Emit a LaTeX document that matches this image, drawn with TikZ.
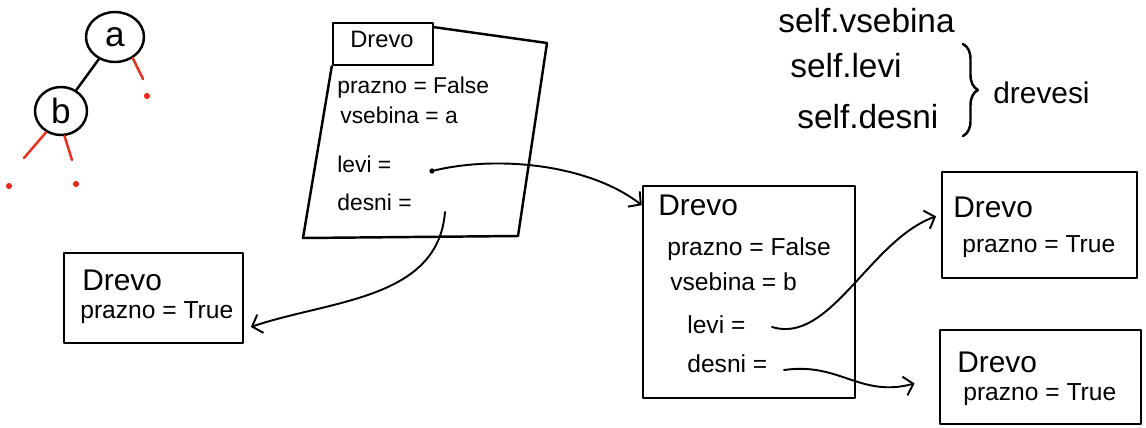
\documentclass[tikz,border=0pt]{standalone}
\usepackage{fontspec}
\setmainfont{Liberation Sans}
\usetikzlibrary{arrows.meta,shapes.geometric,decorations.pathreplacing}
\definecolor{inkred}{RGB}{232,46,30}
\begin{document}
\begin{tikzpicture}[x=0.02cm,y=-0.02cm,
  ink/.style={line width=1.4pt,line cap=round,line join=round},
  frame/.style={draw,ink,rectangle,inner sep=0pt},
  txt/.style={anchor=base west,inner sep=0pt,font=\fontsize{14}{16}\selectfont},
  txtsmall/.style={anchor=base west,inner sep=0pt,font=\fontsize{13}{15}\selectfont},
  head/.style={anchor=base west,inner sep=0pt,font=\fontsize{17}{20}\selectfont},
  big/.style={anchor=base west,inner sep=0pt,font=\fontsize{19}{22}\selectfont},
  link/.style={ink,line width=1.1pt,-{Straight Barb[length=5pt,width=11pt]}},
  knot/.style={draw,ink,ellipse,inner sep=0pt,font=\fontsize{20}{24}\selectfont},
  stub/.style={draw=inkred,line width=1.4pt,line cap=round},
  reddot/.style={circle,fill=inkred,inner sep=0pt,minimum size=3.5pt},
  startdot/.style={circle,fill,inner sep=0pt,minimum size=3pt}]
\useasboundingbox (0,0) rectangle (1146,427);

% ---- small binary tree a -> b, empty subtrees in red
\node[knot,minimum width=1.16cm,minimum height=1cm] (a) at (115,37) {a};
\node[knot,minimum width=1.04cm,minimum height=0.96cm] (b) at (61,111) {b};
\draw[ink] (a) -- (b);
\node[reddot] (ar) at (147,96) {};
\node[reddot] (bl) at (9,186) {};
\node[reddot] (brr) at (76,184) {};
\coordinate (arEnd) at (143,79);
\coordinate (blEnd) at (24,158);
\coordinate (brEnd) at (72,160);
\draw[stub] (a.-50) -- (arEnd);
\draw[stub] (b.-125) -- (blEnd);
\draw[stub] (b.-82) -- (brEnd);

% ---- root object
\node[frame,minimum width=2cm,minimum height=0.84cm] (tab1) at (383,44) {};
\node[anchor=base west,inner sep=0pt,font=\fontsize{13.5}{16}\selectfont] (t1name) at (350,47) {Drevo};
\coordinate (o1) at (433,27);
\coordinate (o2) at (547,43);
\coordinate (o3) at (518,236);
\coordinate (o4) at (303,238);
\draw[ink] (o1) -- (o2) -- (o3) -- (o4) -- (tab1.south west);
\node[txtsmall] (r1) at (337,93) {prazno = False};
\node[txtsmall] (r2) at (340,123) {vsebina = a};
\node[txtsmall] (r3) at (337,172) {levi =};
\node[txtsmall] (r4) at (337,210) {desni =};
\node[startdot] (s1) at (432,171) {};
\coordinate (s2) at (445,212);

% ---- empty tree on the left
\node[frame,minimum width=3.58cm,minimum height=1.8cm] (bL) at (153.5,298) {};
\node[head] (bLname) at (82,290) {Drevo};
\node[txt] (bLval) at (80,318) {prazno = True};

% ---- object b
\node[frame,minimum width=4.24cm,minimum height=4.24cm] (b2) at (749,292) {};
\node[head] (b2name) at (658,215) {Drevo};
\node[txt] (q1) at (667,255) {prazno = False};
\node[txt] (q2) at (670,290) {vsebina = b};
\node[txt] (q3) at (687,333) {levi =};
\node[txt] (q4) at (687,372) {desni =};
\coordinate (u1) at (772,327);
\coordinate (u2) at (784,370);

% ---- empty trees on the right
\node[frame,minimum width=3.9cm,minimum height=2.12cm] (bTR) at (1039.5,225) {};
\node[head] (bTRname) at (953,217) {Drevo};
\node[txt] (bTRval) at (962,252) {prazno = True};
\node[frame,minimum width=4.02cm,minimum height=1.88cm] (bBR) at (1040.5,377) {};
\node[head] (bBRname) at (957,372) {Drevo};
\node[txt] (bBRval) at (963,400) {prazno = True};

% ---- references
\draw[link] (s1) .. controls (500,155) and (590,165) .. (b2.141);
\draw[link,shorten >=0.14cm] (s2) .. controls (438,300) and (330,300) .. (bL.-19);
\draw[link,shorten >=0.1cm] (u1) .. controls (830,345) and (870,240) .. (bTR.174);
\draw[link,shorten >=0.5cm] (u2) .. controls (840,362) and (860,398) .. (bBR.west);

% ---- attribute notes
\node[big] (n1) at (778,32) {self.vsebina};
\node[big] (n2) at (790,77) {self.levi};
\node[big] (n3) at (797,128) {self.desni};
\coordinate (br1) at (963,44);
\coordinate (br2) at (963,136);
\draw[ink,decorate,decoration={brace,amplitude=0.3cm}] (br1) -- (br2);
\node[anchor=base west,inner sep=0pt,font=\fontsize{17}{20}\selectfont] (n4) at (993,103) {drevesi};
\end{tikzpicture}
\end{document}
